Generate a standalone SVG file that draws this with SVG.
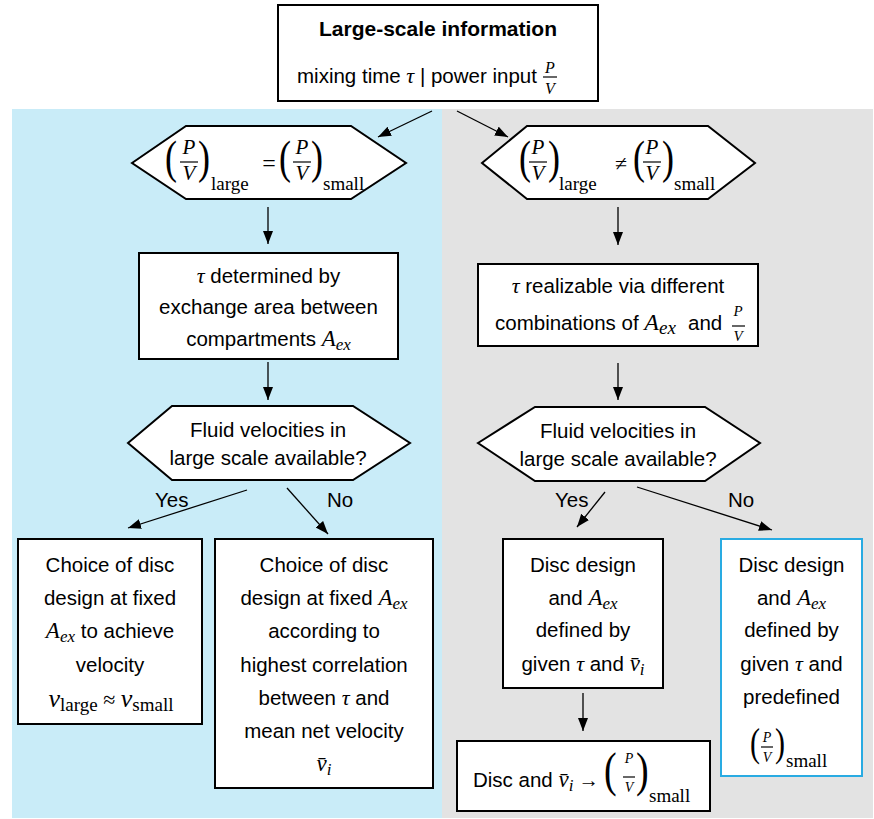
<svg xmlns="http://www.w3.org/2000/svg" width="874" height="819" viewBox="0 0 874 819">
<defs>
<marker id="ah" markerUnits="userSpaceOnUse" markerWidth="14" markerHeight="11" refX="13" refY="5" orient="auto">
<path d="M0,0 L13,5 L0,10 z" fill="#000"/>
</marker>
<style>
.t{font-family:"Liberation Sans",Arial,sans-serif;font-size:20.5px;fill:#000}
.tc{text-anchor:middle}
.b{font-weight:bold;font-size:21px}
.m{font-family:"Liberation Serif","DejaVu Serif",serif;font-style:italic}
.r{font-family:"Liberation Serif","DejaVu Serif",serif;font-style:normal}
.box{fill:#fff;stroke:#000;stroke-width:2}
.hex{fill:#fff;stroke:#000;stroke-width:2}
.conn line{stroke:#000;stroke-width:1.3;marker-end:url(#ah)}
.bar{stroke:#000;stroke-width:1.2}
.par{font-family:"Liberation Serif","DejaVu Serif",serif;fill:#000}
</style>
</defs>
<rect x="0" y="0" width="874" height="819" fill="#fff"/>
<rect x="12" y="109" width="430" height="709" fill="#c9ecf8"/>
<rect x="442" y="109" width="431" height="709" fill="#e3e3e3"/>

<g id="top">
<rect class="box" x="278" y="5" width="320" height="96"/>
<text class="t tc b" x="438" y="36">Large-scale information</text>
<text class="t" x="297" y="83" font-size="20">mixing time <tspan class="m" font-size="22">τ</tspan> | power input</text>
<text class="m tc" x="550" y="73" font-size="16">P</text>
<line class="bar" x1="543" y1="77" x2="557" y2="77"/>
<text class="m tc" x="550" y="94" font-size="16">V</text>
</g>

<g id="hexL1">
<polygon class="hex" points="132,163 186,126 351,126 406,163 351,199 186,199"/>
<text class="par" font-size="36" transform="translate(165,173) scale(1,1.3)">(</text>
<text class="m tc" x="189" y="154" font-size="21">P</text>
<line class="bar" x1="180" y1="162" x2="198" y2="162"/>
<text class="m tc" x="189" y="180" font-size="21">V</text>
<text class="par" font-size="36" transform="translate(198,173) scale(1,1.3)">)</text>
<text class="r" x="211" y="190" font-size="19">large</text>
<text class="r tc" x="269" y="171" font-size="24">=</text>
<text class="par" font-size="36" transform="translate(279,173) scale(1,1.3)">(</text>
<text class="m tc" x="302" y="154" font-size="21">P</text>
<line class="bar" x1="293" y1="162" x2="311" y2="162"/>
<text class="m tc" x="302" y="180" font-size="21">V</text>
<text class="par" font-size="36" transform="translate(311,173) scale(1,1.3)">)</text>
<text class="r" x="323" y="190" font-size="19">small</text>
</g>

<g id="hexR1">
<polygon class="hex" points="482,163 527,126 708,126 755,163 708,199 527,199"/>
<text class="par" font-size="36" transform="translate(519,173) scale(1,1.3)">(</text>
<text class="m tc" x="538" y="154" font-size="21">P</text>
<line class="bar" x1="529" y1="162" x2="547" y2="162"/>
<text class="m tc" x="538" y="180" font-size="21">V</text>
<text class="par" font-size="36" transform="translate(548,173) scale(1,1.3)">)</text>
<text class="r" x="559" y="190" font-size="19">large</text>
<text class="r tc" x="621" y="171" font-size="22">≠</text>
<text class="par" font-size="36" transform="translate(633,173) scale(1,1.3)">(</text>
<text class="m tc" x="652" y="154" font-size="21">P</text>
<line class="bar" x1="643" y1="162" x2="661" y2="162"/>
<text class="m tc" x="652" y="180" font-size="21">V</text>
<text class="par" font-size="36" transform="translate(662,173) scale(1,1.3)">)</text>
<text class="r" x="674" y="190" font-size="19">small</text>
</g>

<g id="boxL1">
<rect class="box" x="139" y="253" width="259" height="106"/>
<text class="t tc" x="268.5" y="283"><tspan class="m" font-size="22">τ</tspan> determined by</text>
<text class="t tc" x="268.5" y="314">exchange area between</text>
<text class="t tc" x="268.5" y="346">compartments <tspan class="m" font-size="23">A</tspan><tspan class="m" font-size="17" dy="4">ex</tspan></text>
</g>

<g id="boxR1">
<rect class="box" x="478" y="264" width="280" height="82"/>
<text class="t tc" x="618" y="293"><tspan class="m" font-size="22">τ</tspan> realizable via different</text>
<text class="t" x="495" y="330">combinations of <tspan class="m" font-size="24">A</tspan><tspan class="m" font-size="19" dy="4">ex</tspan></text>
<text class="t" x="688" y="330">and</text>
<text class="m tc" x="738" y="316" font-size="15">P</text>
<line class="bar" x1="732" y1="326" x2="745" y2="326"/>
<text class="m tc" x="738" y="341" font-size="15">V</text>
</g>

<g id="hexL2">
<polygon class="hex" points="128,443 172,406 353,406 410,443 353,480 172,480"/>
<text class="t tc" x="268" y="437">Fluid velocities in</text>
<text class="t tc" x="268" y="465">large scale available?</text>
</g>

<g id="hexR2">
<polygon class="hex" points="478,443 535,407 705,407 760,443 705,481 535,481"/>
<text class="t tc" x="618" y="438">Fluid velocities in</text>
<text class="t tc" x="618" y="466">large scale available?</text>
</g>

<g id="labels">
<text class="t" x="155" y="507">Yes</text>
<text class="t" x="327" y="507">No</text>
<text class="t" x="555" y="507">Yes</text>
<text class="t" x="728" y="507">No</text>
</g>

<g id="boxA">
<rect class="box" x="18" y="539" width="184" height="185"/>
<text class="t tc" x="110" y="572">Choice of disc</text>
<text class="t tc" x="110" y="605">design at fixed</text>
<text class="t tc" x="110" y="638"><tspan class="m" font-size="23">A</tspan><tspan class="m" font-size="17" dy="4">ex</tspan><tspan dy="-4"> to achieve</tspan></text>
<text class="t tc" x="110" y="672">velocity</text>
<text class="t tc" x="111" y="707"><tspan class="m" font-size="26">v</tspan><tspan class="r" font-size="19" dy="4">large</tspan><tspan class="r" font-size="22" dy="-4"> ≈ </tspan><tspan class="m" font-size="26">v</tspan><tspan class="r" font-size="19" dy="4">small</tspan></text>
</g>

<g id="boxB">
<rect class="box" x="215" y="539" width="218" height="249"/>
<text class="t tc" x="324" y="572">Choice of disc</text>
<text class="t tc" x="324" y="605">design at fixed <tspan class="m" font-size="23">A</tspan><tspan class="m" font-size="17" dy="4">ex</tspan></text>
<text class="t tc" x="324" y="638">according to</text>
<text class="t tc" x="324" y="672">highest correlation</text>
<text class="t tc" x="324" y="705">between <tspan class="m" font-size="22">τ</tspan> and</text>
<text class="t tc" x="324" y="738">mean net velocity</text>
<text class="t tc" x="324" y="771"><tspan class="m" font-size="23">v̄</tspan><tspan class="m" font-size="17" dy="4">i</tspan></text>
</g>

<g id="boxC">
<rect class="box" x="503" y="539" width="160" height="149"/>
<text class="t tc" x="583" y="572">Disc design</text>
<text class="t tc" x="583" y="605">and <tspan class="m" font-size="23">A</tspan><tspan class="m" font-size="17" dy="4">ex</tspan></text>
<text class="t tc" x="583" y="637">defined by</text>
<text class="t tc" x="583" y="671">given <tspan class="m" font-size="22">τ</tspan> and <tspan class="m" font-size="23">v̄</tspan><tspan class="m" font-size="17" dy="4">i</tspan></text>
</g>

<g id="boxD">
<rect x="721" y="539" width="141" height="237" fill="#fff" stroke="#29abe2" stroke-width="2"/>
<text class="t tc" x="791.5" y="572">Disc design</text>
<text class="t tc" x="791.5" y="605">and <tspan class="m" font-size="23">A</tspan><tspan class="m" font-size="17" dy="4">ex</tspan></text>
<text class="t tc" x="791.5" y="637">defined by</text>
<text class="t tc" x="791.5" y="671">given <tspan class="m" font-size="22">τ</tspan> and</text>
<text class="t tc" x="791.5" y="704">predefined</text>
<text class="par" font-size="30" transform="translate(750,756) scale(1,1.3)">(</text>
<text class="m tc" x="767" y="742" font-size="14">P</text>
<line class="bar" x1="761" y1="747" x2="773" y2="747"/>
<text class="m tc" x="767" y="762" font-size="14">V</text>
<text class="par" font-size="30" transform="translate(775,756) scale(1,1.3)">)</text>
<text class="r" x="786" y="767" font-size="19">small</text>
</g>

<g id="boxE">
<rect class="box" x="457" y="741" width="253" height="70"/>
<text class="t" x="473" y="787">Disc and <tspan class="m" font-size="23">v̄</tspan><tspan class="m" font-size="17" dy="4">i</tspan><tspan class="r" dy="-4"> → </tspan></text>
<text class="par" font-size="38" transform="translate(604,786) scale(1,1.3)">(</text>
<text class="m tc" x="629" y="763" font-size="14">P</text>
<line class="bar" x1="623" y1="777" x2="635" y2="777"/>
<text class="m tc" x="629" y="792" font-size="14">V</text>
<text class="par" font-size="38" transform="translate(636,786) scale(1,1.3)">)</text>
<text class="r" x="649" y="802" font-size="19">small</text>
</g>

<g id="connectors" class="conn">
<line x1="432" y1="111" x2="378" y2="137"/>
<line x1="457" y1="111" x2="508" y2="137"/>
<line x1="268" y1="207" x2="268" y2="244"/>
<line x1="618" y1="207" x2="618" y2="245"/>
<line x1="268" y1="362" x2="268" y2="400"/>
<line x1="618" y1="363" x2="618" y2="400"/>
<line x1="247" y1="490" x2="128" y2="528"/>
<line x1="287" y1="488" x2="328" y2="534"/>
<line x1="605" y1="492" x2="577" y2="527"/>
<line x1="637" y1="487" x2="772" y2="530"/>
<line x1="583" y1="693" x2="583" y2="731"/>
</g>
</svg>
